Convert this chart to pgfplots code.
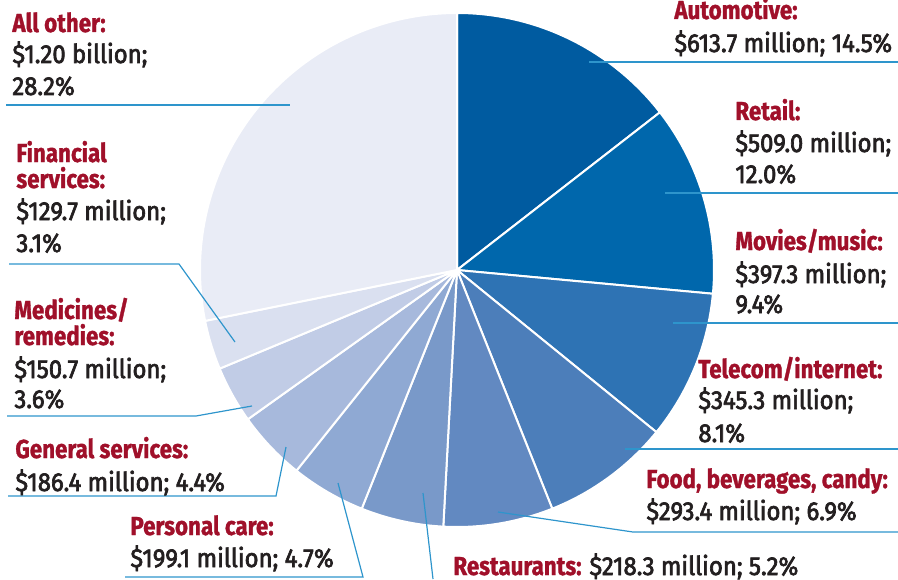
\documentclass[border=0pt]{standalone}
\usepackage{fontspec}
\setmainfont{Fira Sans}[FakeStretch=0.86, BoldFeatures={FakeBold=1.2}]
\newfontfamily\valfont{Fira Sans}[FakeStretch=0.92, FakeBold=2.6]
\usepackage{pgfplots}
\pgfplotsset{compat=1.18}
\definecolor{cA}{HTML}{005BA0}
\definecolor{cB}{HTML}{0067AC}
\definecolor{cC}{HTML}{2E73B4}
\definecolor{cD}{HTML}{4C7EBA}
\definecolor{cE}{HTML}{6289C1}
\definecolor{cF}{HTML}{7999C9}
\definecolor{cG}{HTML}{8FA9D3}
\definecolor{cH}{HTML}{A7B9DC}
\definecolor{cI}{HTML}{C1CCE6}
\definecolor{cJ}{HTML}{DAE0F0}
\definecolor{cK}{HTML}{E9ECF6}
\definecolor{labred}{HTML}{A0102A}
\definecolor{valtxt}{HTML}{231F20}
\definecolor{lead}{HTML}{2E95CC}
\newcommand\T[3]{\node[anchor=base west, inner sep=0pt, text=labred, font=\fontsize{13}{15}\selectfont\bfseries] at (axis cs:#1,#2) {#3};}
\newcommand\V[3]{\node[anchor=base west, inner sep=0pt, text=valtxt, font=\fontsize{13}{15}\valfont] at (axis cs:#1,#2) {#3};}
\begin{document}
\begin{tikzpicture}
\begin{axis}[name=ax, x=0.5pt, y=0.5pt, xmin=0, xmax=898, ymin=0, ymax=579,
  hide axis, clip=false, scale only axis]
% pie wedges: percentages (total 100.1), clockwise from top
\gdef\cum{0}
\foreach \p/\c in {14.5/cA, 12.0/cB, 9.4/cC, 8.1/cD, 6.9/cE, 5.2/cF, 4.7/cG, 4.4/cH, 3.6/cI, 3.1/cJ, 28.2/cK} {
  \pgfmathsetmacro\a{90-3.596404*\cum}
  \pgfmathsetmacro\b{90-3.596404*(\cum+\p)}
  \edef\temp{\noexpand\fill[\c, draw=white, line width=1pt, line join=round] (axis cs:457,309) -- ++(\a:128.5pt) arc[start angle=\a, end angle=\b, radius=128.5pt] -- cycle;}
  \temp
  \pgfmathsetmacro\newcum{\cum+\p}
  \global\let\cum\newcum
}
% leader lines
\addplot[lead, line width=0.6pt, no marks] coordinates {(589,517) (898,517)};
\addplot[lead, line width=0.6pt, no marks] coordinates {(665,386) (898,386)};
\addplot[lead, line width=0.6pt, no marks] coordinates {(673,256) (898,256)};
\addplot[lead, line width=0.6pt, no marks] coordinates {(625,130) (898,130)};
\addplot[lead, line width=0.6pt, no marks] coordinates {(498,67) (633,47) (898,47)};
\addplot[lead, line width=0.6pt, no marks] coordinates {(423,86) (433,0)};
\addplot[lead, line width=0.6pt, no marks] coordinates {(338,96) (363,2) (125,2)};
\addplot[lead, line width=0.6pt, no marks] coordinates {(286,132) (276,83) (8,83)};
\addplot[lead, line width=0.6pt, no marks] coordinates {(252,173) (196,163) (7,163)};
\addplot[lead, line width=0.6pt, no marks] coordinates {(235,237) (179,315) (9,315)};
\addplot[lead, line width=0.6pt, no marks] coordinates {(6,474) (290,474)};
% labels
\T{674}{560}{Automotive:}
\V{674}{527}{\$613.7 million; 14.5\%}
\T{735}{459}{Retail:}
\V{735}{427}{\$509.0 million;}
\V{735}{396}{12.0\%}
\T{735}{329}{Movies/music:}
\V{735}{296}{\$397.3 million;}
\V{735}{266}{9.4\%}
\T{698}{201}{Telecom/internet:}
\V{698}{170}{\$345.3 million;}
\V{698}{137}{8.1\%}
\T{646}{91}{Food, beverages, candy:}
\V{646}{59}{\$293.4 million; 6.9\%}
\node[anchor=base west, inner sep=0pt, font=\fontsize{13}{15}\selectfont] at (axis cs:453,4) {{\color{labred}\bfseries Restaurants:} {\color{valtxt}\valfont \$218.3 million; 5.2\%}};
\T{130}{44}{Personal care:}
\V{130}{12}{\$199.1 million; 4.7\%}
\T{15}{121}{General services:}
\V{15}{88}{\$186.4 million; 4.4\%}
\T{14}{260}{Medicines/}
\T{14}{234}{remedies:}
\V{14}{201}{\$150.7 million;}
\V{14}{171}{3.6\%}
\T{16}{417}{Financial}
\T{16}{391}{services:}
\V{16}{359}{\$129.7 million;}
\V{16}{327}{3.1\%}
\T{12}{547}{All other:}
\V{12}{516}{\$1.20 billion;}
\V{12}{484}{28.2\%}
\end{axis}
\pgfresetboundingbox
\path[use as bounding box] (ax.south west) rectangle (ax.north east);
\end{tikzpicture}
\end{document}
